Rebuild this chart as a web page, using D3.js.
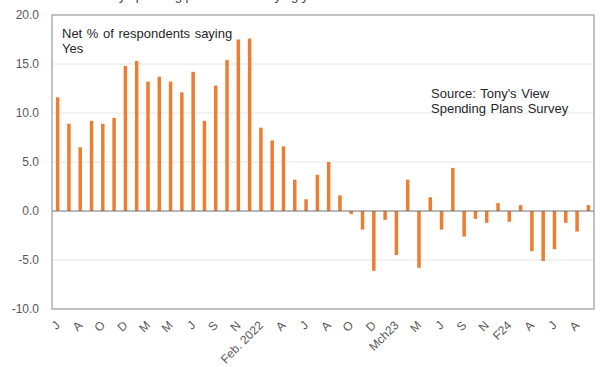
<!DOCTYPE html>
<html>
<head>
<meta charset="utf-8">
<script src="https://cdn.jsdelivr.net/npm/d3@7"></script>
<style>
  html, body { margin: 0; padding: 0; background: #fff; }
  svg { display: block; font-family: "Liberation Sans", Arial, sans-serif; }
</style>
</head>
<body>
<svg id="chart" width="606" height="367"></svg>
<script>
// Net % of respondents saying Yes, one value per survey
const values = [
  11.6, 8.9, 6.5, 9.2, 8.9, 9.5, 14.8, 15.3, 13.2, 13.7, 13.2, 12.1,
  14.2, 9.2, 12.8, 15.4, 17.5, 17.6, 8.5, 7.2, 6.6, 3.2, 1.2, 3.7,
  5.0, 1.6, -0.3, -1.9, -6.1, -0.9, -4.5, 3.2, -5.8, 1.4, -1.9, 4.4,
  -2.6, -0.8, -1.2, 0.8, -1.1, 0.6, -4.1, -5.1, -3.9, -1.2, -2.1, 0.6
];
// Labels shown on every second survey
const tickLabels = [
  "J", "A", "O", "D", "M", "M", "J", "S", "N", "Feb. 2022", "A", "J",
  "A", "O", "D", "Mch23", "M", "J", "S", "N", "F24", "A", "J", "A"
];
const yTicks = [-10, -5, 0, 5, 10, 15, 20];
const categories = values.map((_, i) => i);

const svg = d3.select("#chart");
const plot = { left: 52, right: 594, top: 15, bottom: 309 };

const x = d3.scaleBand()
  .domain(categories)
  .range([plot.left, plot.right])
  .paddingInner(0.69)
  .paddingOuter(0.345);

const y = d3.scaleLinear().domain([-10, 20]).range([plot.bottom, plot.top]);

// Title line, mostly above the visible area
svg.append("text")
  .attr("x", 80).attr("y", 0)
  .attr("font-size", 13).attr("fill", "#404040")
  .text("Monthly spending plans: net % saying yes");

// Horizontal gridlines
svg.append("g")
  .selectAll("line")
  .data(yTicks.filter(d => d !== 0 && d !== -10 && d !== 20))
  .join("line")
  .attr("x1", plot.left).attr("x2", plot.right)
  .attr("y1", d => y(d)).attr("y2", d => y(d))
  .attr("stroke", "#e6e6e6").attr("stroke-width", 1);

// Y axis labels (plain hyphen for negatives)
const fmt = d => d.toFixed(1);
const yAxis = d3.axisLeft(y).tickValues(yTicks).tickFormat(fmt).tickSize(0).tickPadding(13);
const yg = svg.append("g").attr("transform", `translate(${plot.left},0)`).call(yAxis);
yg.select(".domain").remove();
yg.selectAll("text").attr("font-size", 12).attr("fill", "#595959")
  .attr("font-family", "Liberation Sans, Arial, sans-serif");

// Bars
svg.append("g")
  .selectAll("rect")
  .data(values)
  .join("rect")
  .attr("x", (d, i) => x(i))
  .attr("width", x.bandwidth())
  .attr("y", d => y(Math.max(0, d)))
  .attr("height", d => Math.abs(y(d) - y(0)))
  .attr("fill", "#ED7D31");

// Zero line
svg.append("line")
  .attr("x1", plot.left).attr("x2", plot.right)
  .attr("y1", y(0)).attr("y2", y(0))
  .attr("stroke", "#707070").attr("stroke-width", 1);

// Plot frame
svg.append("rect")
  .attr("x", plot.left).attr("y", plot.top)
  .attr("width", plot.right - plot.left).attr("height", plot.bottom - plot.top)
  .attr("fill", "none").attr("stroke", "#9a9a9a").attr("stroke-width", 1.2);

// X axis labels, rotated
const xAxis = d3.axisBottom(x)
  .tickValues(categories.filter(i => i % 2 === 0))
  .tickFormat(i => tickLabels[i / 2])
  .tickSize(0);
const xg = svg.append("g").attr("transform", `translate(0,${plot.bottom})`).call(xAxis);
xg.select(".domain").remove();
xg.selectAll("text")
  .attr("font-size", 12).attr("fill", "#595959")
  .attr("font-family", "Liberation Sans, Arial, sans-serif")
  .attr("text-anchor", "end")
  .attr("dy", null)
  .attr("y", 0)
  .attr("transform", "translate(3,17) rotate(-45)");

// Annotations
const note = svg.append("text").attr("font-size", 13).attr("fill", "#262626")
  .attr("word-spacing", 1);
note.append("tspan").attr("x", 62).attr("y", 38).text("Net % of respondents saying");
note.append("tspan").attr("x", 62).attr("y", 53).text("Yes");

const src = svg.append("text").attr("font-size", 13).attr("fill", "#262626")
  .attr("word-spacing", 1);
src.append("tspan").attr("x", 431).attr("y", 98).text("Source: Tony's View");
src.append("tspan").attr("x", 431).attr("y", 113).text("Spending Plans Survey");
</script>
</body>
</html>
